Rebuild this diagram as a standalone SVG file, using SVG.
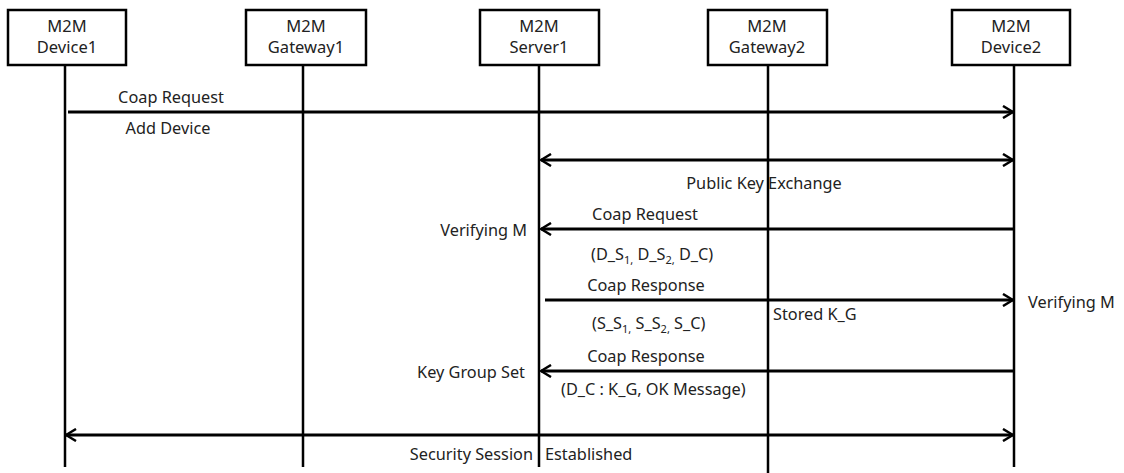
<svg xmlns="http://www.w3.org/2000/svg" width="1124" height="473" viewBox="0 0 1124 473">
<defs>
<style>
text{font-family:"Noto Sans","Open Sans",sans-serif;font-size:16.3px;fill:#222}
.box rect{fill:#fff;stroke:#000;stroke-width:2.5}
.box text{font-size:16.5px;text-anchor:middle}
.life{stroke:#000;stroke-width:2.5}
.msg{stroke:#000;stroke-width:3;fill:none}
.c{text-anchor:middle}
.r{text-anchor:end}
.sub{font-size:11px}
</style>
<marker id="ah" viewBox="0 0 12 14" refX="11" refY="7" markerWidth="12" markerHeight="14" markerUnits="userSpaceOnUse" orient="auto-start-reverse">
<path d="M1,1 L11,7 L1,13" fill="none" stroke="#000" stroke-width="2.5"/>
</marker>
</defs>
<g id="lifelines">
<line class="life" x1="65" y1="65" x2="65" y2="467"/>
<line class="life" x1="303" y1="65" x2="303" y2="467"/>
<line class="life" x1="539" y1="65" x2="539" y2="467"/>
<line class="life" x1="768" y1="65" x2="768" y2="473"/>
<line class="life" x1="1014" y1="65" x2="1014" y2="467"/>
</g>
<g id="device1" class="box"><rect x="8" y="10" width="118" height="55"/><text x="67" y="32">M2M</text><text x="67" y="53">Device1</text></g>
<g id="gateway1" class="box"><rect x="246" y="10" width="120" height="55"/><text x="306" y="32">M2M</text><text x="306" y="53">Gateway1</text></g>
<g id="server1" class="box"><rect x="480" y="10" width="119" height="55"/><text x="539" y="32">M2M</text><text x="539" y="53">Server1</text></g>
<g id="gateway2" class="box"><rect x="708" y="10" width="119" height="55"/><text x="767" y="32">M2M</text><text x="767" y="53">Gateway2</text></g>
<g id="device2" class="box"><rect x="952" y="10" width="118" height="55"/><text x="1011" y="32">M2M</text><text x="1011" y="53">Device2</text></g>
<g id="connectors">
<line class="msg" x1="68" y1="112" x2="1013" y2="112" marker-end="url(#ah)"/>
<line class="msg" x1="541" y1="160" x2="1013" y2="160" marker-start="url(#ah)" marker-end="url(#ah)"/>
<line class="msg" x1="1014" y1="229" x2="541" y2="229" marker-end="url(#ah)"/>
<line class="msg" x1="545" y1="300" x2="1013" y2="300" marker-end="url(#ah)"/>
<line class="msg" x1="1014" y1="371" x2="541" y2="371" marker-end="url(#ah)"/>
<line class="msg" x1="66" y1="435" x2="1013" y2="435" marker-start="url(#ah)" marker-end="url(#ah)"/>
</g>
<g id="labels">
<text class="c" x="171" y="103">Coap Request</text>
<text class="c" x="168" y="134">Add Device</text>
<text class="c" x="764" y="189">Public Key Exchange</text>
<text class="c" x="645" y="220">Coap Request</text>
<text class="r" x="527" y="236">Verifying M</text>
<text x="591" y="260">(D_S<tspan class="sub" dy="4">1,</tspan><tspan dy="-4"> D_S</tspan><tspan class="sub" dy="4">2,</tspan><tspan dy="-4"> D_C)</tspan></text>
<text class="c" x="646" y="291">Coap Response</text>
<text x="1028" y="308">Verifying M</text>
<text x="773" y="320">Stored K_G</text>
<text x="592" y="329">(S_S<tspan class="sub" dy="4">1,</tspan><tspan dy="-4"> S_S</tspan><tspan class="sub" dy="4">2,</tspan><tspan dy="-4"> S_C)</tspan></text>
<text class="c" x="646" y="362">Coap Response</text>
<text class="r" x="525" y="378">Key Group Set</text>
<text x="561" y="395">(D_C : K_G, OK Message)</text>
<text class="r" x="533" y="460">Security Session</text>
<text x="545" y="460">Established</text>
</g>
</svg>
